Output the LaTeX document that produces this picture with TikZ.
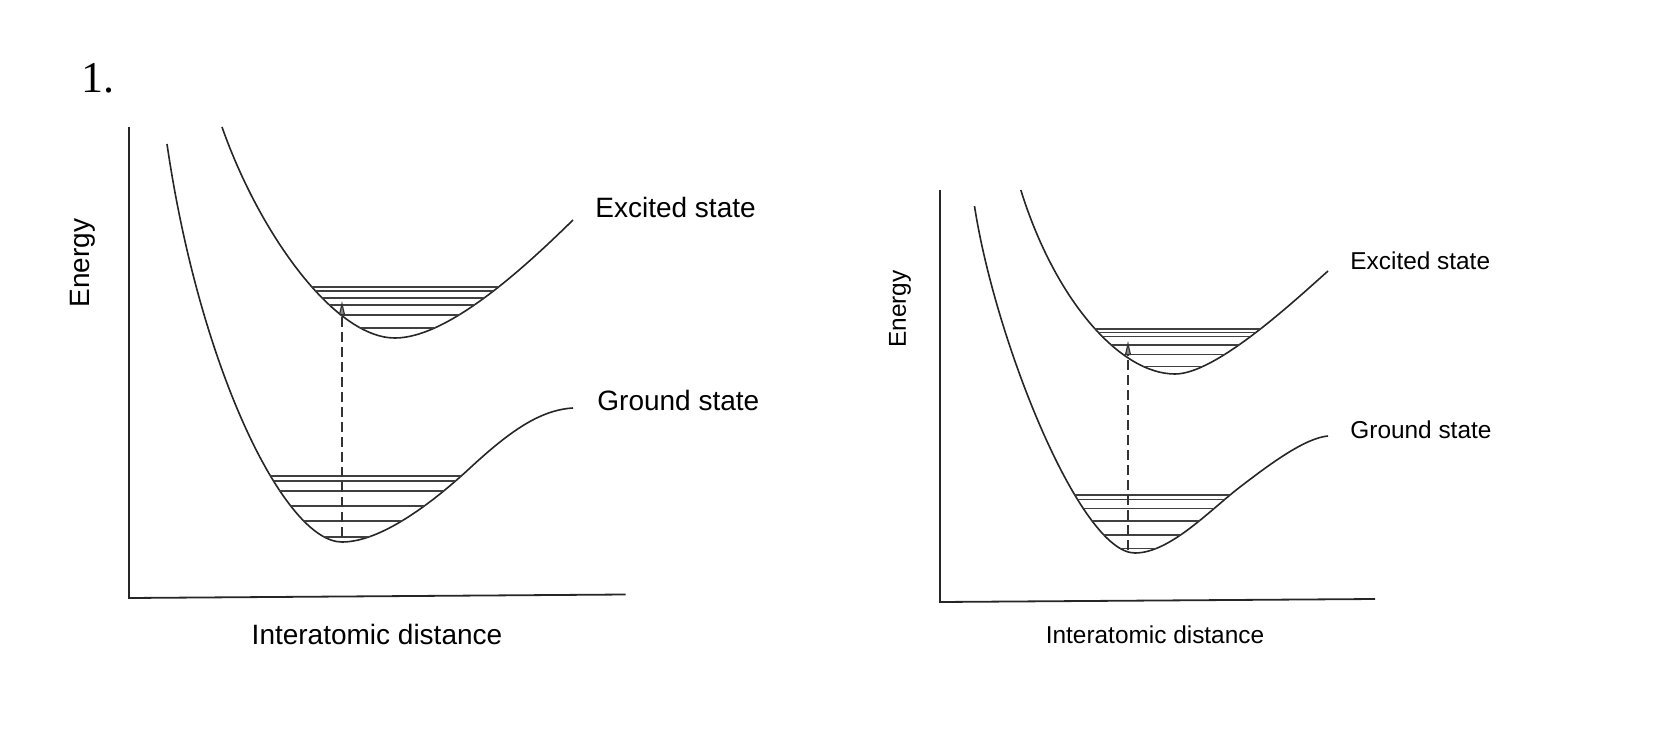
\documentclass[tikz,border=0pt]{standalone}
\usepackage{fontspec}
\setmainfont{Liberation Sans}
\newfontfamily\numfont{Liberation Serif}
\usetikzlibrary{arrows.meta}
\newcommand\curveLG{(167,144) .. controls (200,370) and (285,542) .. (342,542) .. controls (380,542) and (430,505) .. (470,468) .. controls (510,431) and (540,410) .. (573,408)}
\newcommand\curveLE{(222,127) .. controls (260,235) and (335,338) .. (395,338) .. controls (450,338) and (530,262) .. (573,220)}
\newcommand\curveRG{(974.5,206) .. controls (995,340) and (1080,553) .. (1135,553) .. controls (1170,553) and (1210,510) .. (1240,487) .. controls (1270,464) and (1305,438) .. (1328,436)}
\newcommand\curveRE{(1020.8,190) .. controls (1055,300) and (1120,374) .. (1175,374) .. controls (1215,374) and (1290,305) .. (1328,271)}
\begin{document}
\begin{tikzpicture}[x=0.5pt,y=-0.5pt,
  curve/.style={line width=0.8pt, black!85},
  axis/.style={line width=0.9pt, black!85},
  level/.style={line width=0.75pt, black!75},
  trans/.style={dash pattern=on 5pt off 2.5pt, line width=0.6pt, black!80,
    -{Triangle[length=7pt,width=3pt,fill=black!45]}},
  lab/.style={font=\fontsize{14}{16}\selectfont, inner sep=0pt},
  labs/.style={font=\fontsize{12.2}{14}\selectfont, inner sep=0pt}]
\useasboundingbox (0,0) rectangle (1656,744);

% number
\node[inner sep=0pt, anchor=base west, font=\numfont\fontsize{22}{24}\selectfont] (num) at (81,92) {1.};

% ---------- left panel ----------
\coordinate (LyT) at (129,127);
\coordinate (Lo) at (129,598);
\coordinate (LxR) at (625.5,594.5);
\draw[axis] (LyT) -- (Lo) -- (LxR);

\draw[curve] \curveLG;
\draw[curve] \curveLE;

\begin{scope}
  \clip \curveLG -- (573,0) -- (167,0) -- cycle;
  \foreach \yy in {476,481,491,506,521,537} \draw[level] (150,\yy) -- (600,\yy);
\end{scope}
\begin{scope}
  \clip \curveLE -- (573,0) -- (222,0) -- cycle;
  \foreach \yy in {287,291,298,305,315,328} \draw[level] (200,\yy) -- (600,\yy);
\end{scope}

\coordinate (Lg) at (342,537);
\coordinate (Le) at (342,301);
\draw[trans] (Lg) -- (Le);

\node[lab, anchor=base west] (LEx) at (595,217) {Excited state};
\node[lab, anchor=base west] (LGr) at (597,410) {Ground state};
\node[lab, rotate=90] (LEn) at (83,263) {Energy};
\node[lab, anchor=base] (LIn) at (377,644) {Interatomic distance};

% ---------- right panel ----------
\coordinate (RyT) at (940,190);
\coordinate (Ro) at (940,602);
\coordinate (RxR) at (1375,599);
\draw[axis] (RyT) -- (Ro) -- (RxR);

\draw[curve] \curveRG;
\draw[curve] \curveRE;

\begin{scope}
  \clip \curveRG -- (1328,0) -- (974.5,0) -- cycle;
  \foreach \yy in {495,499.3,508.3,521,535,548.3} \draw[level] (960,\yy) -- (1340,\yy);
\end{scope}
\begin{scope}
  \clip \curveRE -- (1328,0) -- (1020.8,0) -- cycle;
  \foreach \yy in {329,332.3,336.7,345,354.3,366.7} \draw[level] (1000,\yy) -- (1340,\yy);
\end{scope}

\coordinate (Rg) at (1128,550);
\coordinate (Re) at (1128,341);
\draw[trans] (Rg) -- (Re);

\node[labs, anchor=base west] (REx) at (1350,269) {Excited state};
\node[labs, anchor=base west] (RGr) at (1350,438) {Ground state};
\node[labs, rotate=90] (REn) at (900,309) {Energy};
\node[labs, anchor=base] (RIn) at (1155,643) {Interatomic distance};
\end{tikzpicture}
\end{document}
